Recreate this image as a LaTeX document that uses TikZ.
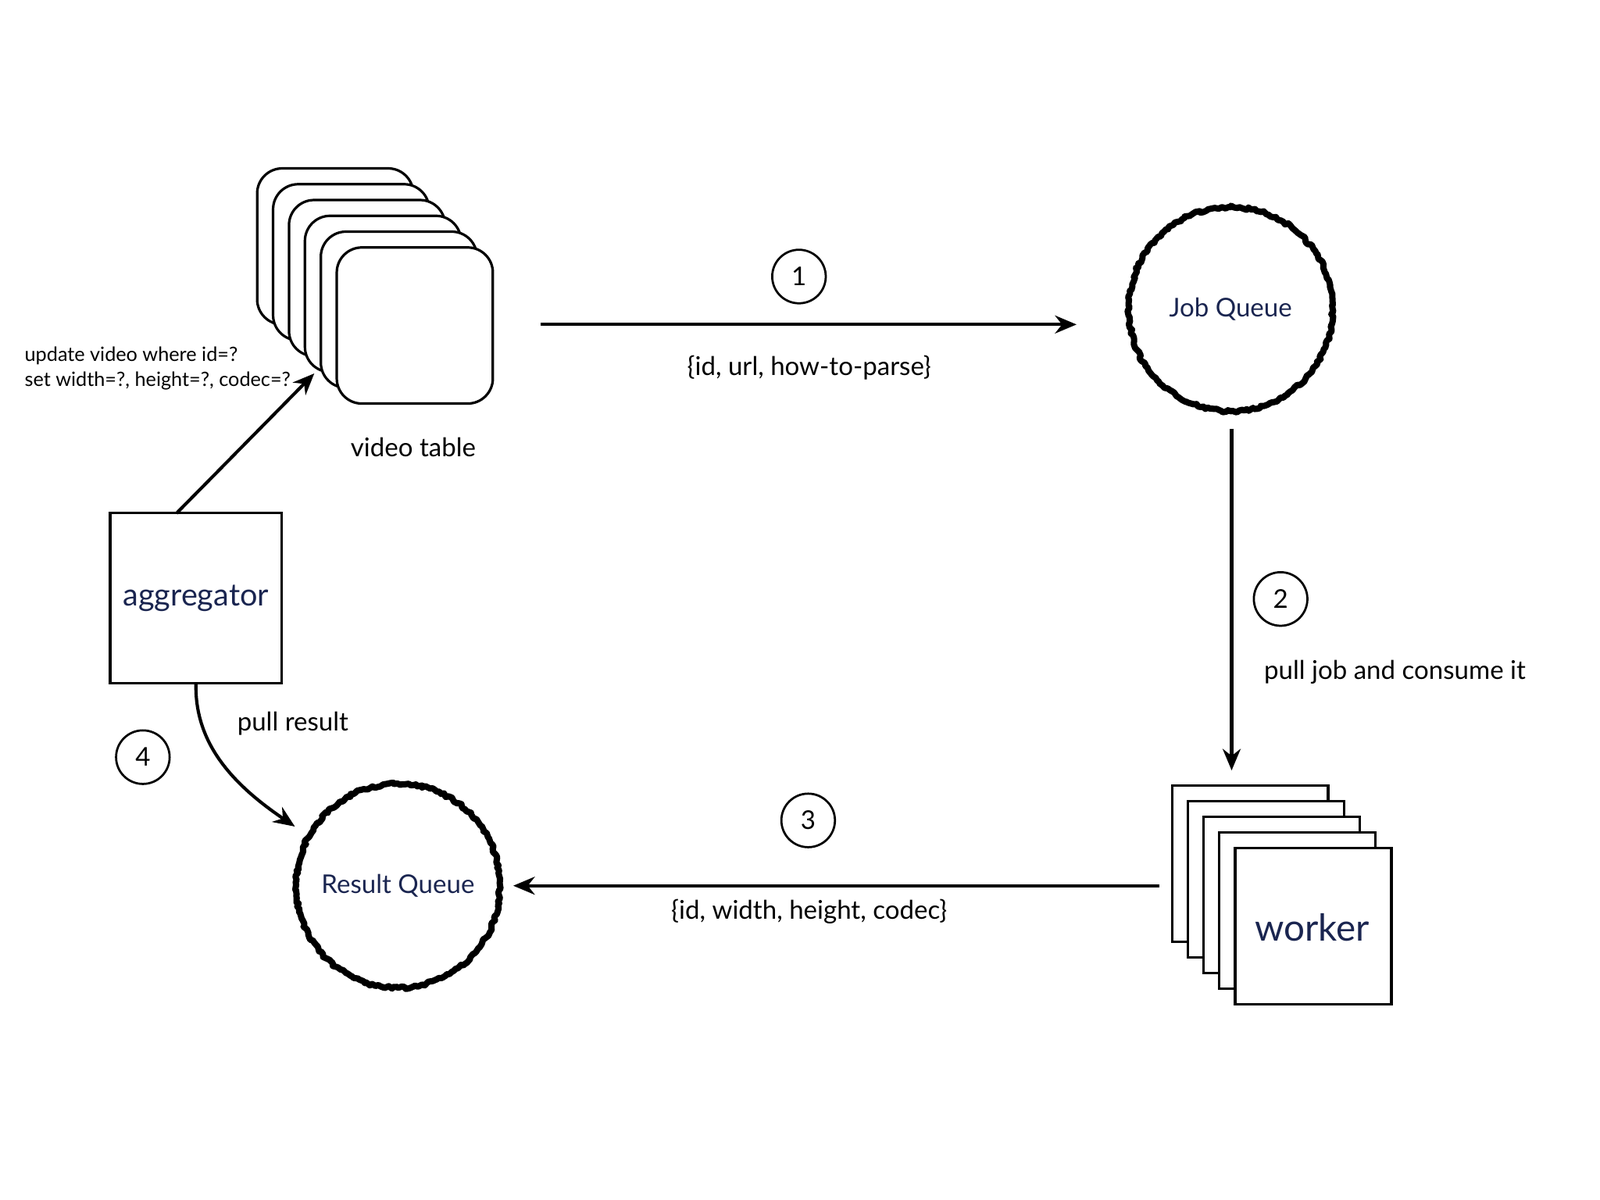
\documentclass[tikz,border=0pt]{standalone}
\usepackage{fontspec}
\setmainfont{Lato}
\usetikzlibrary{positioning,arrows.meta,decorations.pathmorphing}
\definecolor{navy}{HTML}{1A2550}
\tikzset{
  card/.style={draw, fill=white, line width=1.4pt, rounded corners=14pt, minimum width=3.06cm, minimum height=3.06cm},
  sheet/.style={draw, fill=white, line width=1.4pt, minimum width=3.06cm, minimum height=3.06cm},
  queue/.style={circle, draw, line width=3.5pt, line join=round, minimum size=4.0cm, text=navy, font=\Large,
    decoration={random steps, segment length=1.5pt, amplitude=0.8pt}, decorate},
  stepnum/.style={circle, draw, line width=1.2pt, minimum size=1.05cm, font=\Large},
  arrow/.style={line width=1.8pt, -{Stealth[length=12pt, width=10pt]}},
  lbl/.style={font=\Large}
}
\begin{document}
\begin{tikzpicture}[x=0.02cm, y=-0.02cm]
\useasboundingbox (0,0) rectangle (1568,1176);

% video table
\foreach \i in {0,...,5}
  \node (vt\i) [card] at (328.5+15.6*\i, 241.5+15.5*\i) {};
\node (vtlabel) [lbl] at (405,438) {video table};

% queues
\node (jobq) [queue] at (1206,303) {Job Queue};
\node (resq) [queue] at (390,868) {Result Queue};

% workers
\foreach \i in {0,...,4}
  \node (wk\i) [sheet] at (1225+15.5*\i, 846.5+15.3*\i) {};
\node [text=navy, font=\huge] at (1286,909) {worker};

% aggregator
\node (agg) [draw, line width=1.4pt, minimum width=3.36cm, minimum height=3.34cm,
  text=navy, font=\LARGE] at (192,586) {aggregator};

% arrows
\coordinate (a1s) at (530,318); \coordinate (a1e) at (1055,318);
\draw [arrow] (a1s) -- (a1e);
\node (s1) [stepnum] at (783,271) {1};
\node [lbl] at (793,360) {\{id, url, how-to-parse\}};

\coordinate (a2s) at (1207,420); \coordinate (a2e) at (1207,755);
\draw [arrow] (a2s) -- (a2e);
\node (s2) [stepnum] at (1255,587) {2};
\node [lbl] at (1367,659) {pull job and consume it};

\coordinate (a3s) at (1136,868);
\draw [arrow] (a3s) -- (503,868);
\node (s3) [stepnum] at (792,804) {3};
\node [lbl] at (793,893) {\{id, width, height, codec\}};

\draw [arrow] (agg.south) .. controls (191,730) and (230,770) .. (289,810);
\node (s4) [stepnum] at (140,742) {4};
\node [lbl] at (287,709) {pull result};

\coordinate (upd) at (308,366);
\draw [arrow] (173,503) -- (upd);
\node [font=\fontsize{11}{14}\selectfont, align=left, anchor=west] at (18,361)
  {update video where id=?\\set width=?, height=?, codec=?};
\end{tikzpicture}
\end{document}
